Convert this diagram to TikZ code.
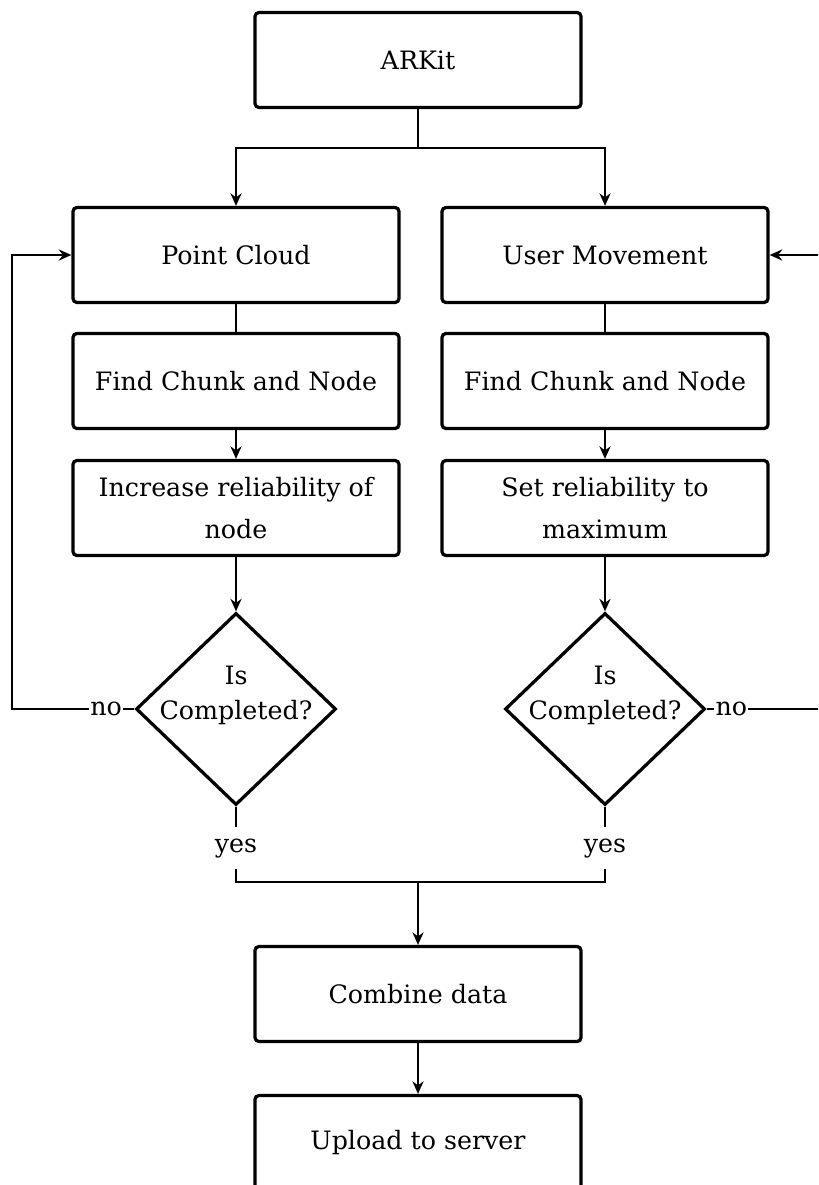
\documentclass[tikz,border=0pt]{standalone}
\usepackage{fontspec}
\setmainfont{DejaVu Serif}
\usetikzlibrary{arrows.meta,shapes.geometric}

\begin{document}
\begin{tikzpicture}[>={Stealth[length=9pt,width=8pt,inset=3pt]}, x=0.025cm, y=-0.025cm,
  box/.style={rectangle, draw, line width=2.3pt, rounded corners=0.1cm,
    minimum width=8.15cm, minimum height=2.375cm, align=center,
    font=\fontsize{18}{30}\selectfont},
  decision/.style={diamond, draw, line width=2.3pt, minimum width=5cm,
    minimum height=4.8cm, inner sep=0pt},
  txt/.style={align=center, font=\fontsize{18}{25}\selectfont},
  conn/.style={line width=1.1pt},
  nolbl/.style={fill=white, inner sep=1pt, font=\fontsize{18}{22}\selectfont},
  yeslbl/.style={fill=white, pos=0.55, inner sep=0pt, minimum height=1.05cm,
    font=\fontsize{18}{22}\selectfont}]
\clip (0,0) rectangle (818,1185);

% Boxes
\node[box] (ark) at (418,60) {ARKit};
\node[box] (pc) at (236,255) {Point Cloud};
\node[box] (um) at (605,255) {User Movement};
\node[box] (findL) at (236,381) {Find Chunk and Node};
\node[box] (findR) at (605,381) {Find Chunk and Node};
\node[box] (incr) at (236,508) {Increase reliability of\\node};
\node[box] (setmax) at (605,508) {Set reliability to\\maximum};
\node[box] (comb) at (418,994) {Combine data};
\node[box] (upl) at (418,1143) {Upload to server};

% Decisions
\node[decision] (chkL) at (236,709) {};
\node[decision] (chkR) at (605,709) {};
\node[txt] (chkLtxt) at (236,695) {Is\\Completed?};
\node[txt] (chkRtxt) at (605,695) {Is\\Completed?};

% Split, merge and loop corners
\coordinate (split) at (418,148);
\coordinate (merge) at (418,882);
\coordinate (loopL) at (12,709);
\coordinate (loopR) at (830,709);

% Main flow
\draw[conn] (ark) -- (split);
\draw[conn,->] (split) -| (pc);
\draw[conn,->] (split) -| (um);
\draw[conn] (pc) -- (findL);
\draw[conn] (um) -- (findR);
\draw[conn,->] (findL) -- (incr);
\draw[conn,->] (findR) -- (setmax);
\draw[conn,->] (incr) -- (chkL);
\draw[conn,->] (setmax) -- (chkR);

% Loops back
\draw[conn,->] (chkL.west) -- node[nolbl, pos=0.23] {no} (loopL) |- (pc.west);
\draw[conn,->] (chkR.east) -- node[nolbl, pos=0.2] {no} (loopR) |- (um.east);

% Yes branches
\draw[conn] (chkL.south) -- node[yeslbl] {yes} (chkL.south |- merge) -- (merge);
\draw[conn] (chkR.south) -- node[yeslbl] {yes} (chkR.south |- merge) -- (merge);
\draw[conn,->] (merge) -- (comb);
\draw[conn,->] (comb) -- (upl);
\end{tikzpicture}
\end{document}
